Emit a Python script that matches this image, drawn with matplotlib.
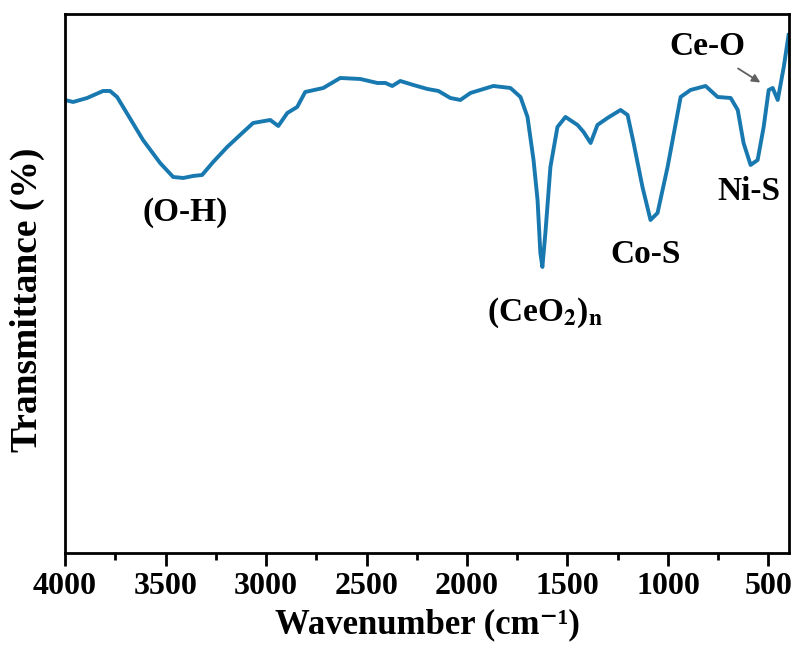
import numpy as np
import matplotlib
matplotlib.use('Agg')
import matplotlib.pyplot as plt

plt.rcParams['font.family'] = ['Liberation Serif', 'DejaVu Serif']
plt.rcParams['font.weight'] = 'bold'
plt.rcParams['mathtext.fontset'] = 'stix'

# FTIR spectrum (arbitrary transmittance units)
wavenumber = [4000, 3960, 3890, 3811, 3776, 3741, 3612, 3527, 3462, 3412,
              3363, 3318, 3263, 3193, 3129, 3064, 2979, 2939, 2894, 2845,
              2805, 2715, 2631, 2531, 2446, 2406, 2372, 2332, 2267, 2197,
              2142, 2083, 2033, 1983, 1869, 1784, 1734, 1699, 1669, 1649,
              1635, 1625, 1610, 1585, 1550, 1510, 1450, 1420, 1385, 1351,
              1301, 1236, 1201, 1171, 1127, 1087, 1052, 1002, 937, 888,
              813, 753, 688, 653, 624, 589, 554, 524, 499, 479,
              454, 424, 400]
transmittance = [453, 451, 455, 462, 462, 456, 413, 390, 376, 375,
                 377, 378, 391, 406, 418, 430, 433, 427, 440, 446,
                 461, 465, 475, 474, 470, 470, 467, 472, 468, 464,
                 462, 455, 453, 460, 467, 465, 456, 436, 393, 353,
                 300, 286, 320, 386, 426, 436, 428, 421, 410, 428,
                 435, 443, 438, 410, 366, 333, 340, 386, 456, 463,
                 467, 456, 455, 443, 410, 388, 393, 426, 463, 465,
                 453, 486, 518]

fig, ax = plt.subplots(figsize=(7.98, 6.66), dpi=100)
fig.subplots_adjust(left=0.0815, right=0.9887, bottom=0.1697, top=0.979)

ax.plot(wavenumber, transmittance, color='#1878b0', lw=2.8)

ax.set_xlim(4000, 398)
ax.set_ylim(0, 539)
ax.set_xticks([4000, 3500, 3000, 2500, 2000, 1500, 1000, 500])
ax.set_xticks([3750, 3250, 2750, 2250, 1750, 1250, 750], minor=True)
ax.set_yticks([])
ax.tick_params(axis='x', which='major', direction='out', length=9, width=2,
               labelsize=23, pad=5)
ax.tick_params(axis='x', which='minor', direction='out', length=5, width=2)
for s in ax.spines.values():
    s.set_linewidth(2)

ax.set_xlabel('Wavenumber (cm\u207b\u00b9)', fontsize=25, fontweight='bold', labelpad=5)
ax.set_ylabel('Transmittance (%)', fontsize=27, fontweight='bold')
ax.yaxis.set_label_coords(-0.028, 0.47)

lab = dict(fontsize=24, fontweight='bold', ha='center', va='center')
ax.text(3400, 340, '(O-H)', **lab)
ax.text(1610, 240, '(CeO$_\\mathbf{2}$)$_\\mathbf{n}$', **lab)
ax.text(1112, 298, 'Co-S', **lab)
ax.text(600, 361, 'Ni-S', **lab)
ax.text(803, 506, 'Ce-O', **lab)
ax.annotate('', xy=(529, 469), xytext=(663, 486),
            arrowprops=dict(arrowstyle='-|>', color='#606060', lw=1.3,
                            mutation_scale=12))

fig.savefig('out.png', dpi=100)
